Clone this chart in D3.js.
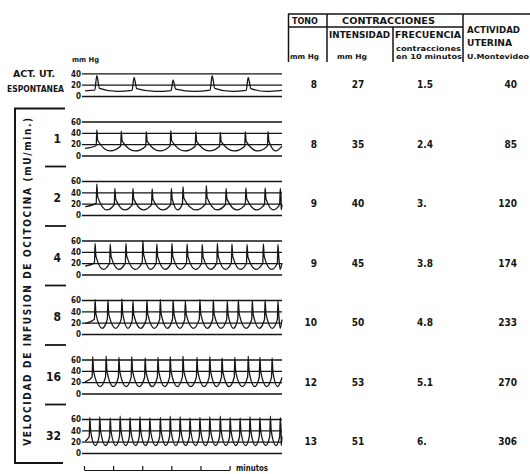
<!DOCTYPE html>
<html><head><meta charset="utf-8">
<script src="https://cdn.jsdelivr.net/npm/d3@7"></script>
<style>
html,body{margin:0;padding:0;background:#fff;}
svg{display:block;}
text{font-family:"DejaVu Sans Condensed","Liberation Sans Narrow","DejaVu Sans",sans-serif;font-weight:bold;fill:#151515;}
</style></head><body>
<svg id="c" width="530" height="474"></svg>
<script>
// Registros de presión amniótica: actividad espontánea y con infusión de ocitocina
const filas = ["ESPONTANEA", "1", "2", "4", "8", "16", "32"];
const tono = [8, 8, 9, 9, 10, 12, 13];
const intensidad = [27, 35, 40, 45, 50, 53, 51];
const frecuencia = ["1.5", "2.4", "3.", "3.8", "4.8", "5.1", "6."];
const actividad = [40, 85, 120, 174, 233, 270, 306];
const escalaEspontanea = [0, 20, 40];
const escalaInfusion = [0, 20, 40, 60];
const escalaTiempo = [0, 5, 10, 15, 20, 25];

// instante de cada contracción (minutos) y presión máxima alcanzada (mm Hg)
const picosT = [
  [2.2, 8.6, 15.3, 22.0, 28.2],
  [2.2, 6.4, 10.7, 14.9, 19.2, 23.4, 27.7, 31.6],
  [2.2, 5.3, 8.4, 11.7, 15.0, 17.0, 21.0, 24.4, 27.8, 31.1, 33.7],
  [1.9, 4.5, 7.2, 10.1, 12.5, 15.1, 17.7, 20.3, 22.9, 25.4, 28.0, 30.8, 33.3],
  [1.9, 4.1, 6.5, 8.4, 10.8, 13.1, 15.3, 17.4, 19.9, 22.2, 24.6, 26.5, 28.9, 31.1, 33.3],
  [1.5, 3.8, 6.0, 8.2, 10.5, 12.7, 14.8, 17.0, 19.4, 21.6, 23.7, 25.9, 28.2, 30.2, 32.3],
  [1.0, 2.7, 4.5, 6.2, 7.9, 9.6, 11.3, 13.1, 14.8, 16.5, 18.2, 19.9, 21.6, 23.4, 25.1, 26.8, 28.5, 30.2, 32.0, 33.7]
];
const picosP = [
  [36, 33, 28, 36, 33],
  [45, 43, 42, 44, 42, 41, 42, 42],
  [55, 47, 47, 46, 47, 50, 52, 47, 48, 48, 47],
  [55, 54, 55, 60, 54, 55, 54, 53, 55, 54, 53, 54, 53],
  [61, 60, 62, 58, 60, 61, 60, 59, 61, 60, 58, 60, 59, 60, 58],
  [65, 66, 64, 65, 63, 64, 65, 66, 64, 65, 63, 64, 66, 64, 63],
  [63, 64, 62, 65, 63, 64, 62, 63, 65, 64, 62, 63, 64, 65, 63, 62, 64, 63, 65, 63]
];

const svg = d3.select("#c");
const ink = "#151515";

const x = d3.scaleLinear().domain([0, 34]).range([84, 282]);
const fila = d3.scalePoint().domain(d3.range(filas.length)).range([96, 453]);
const yPanel = i => d3.scaleLinear().domain([0, 60]).range([fila(i), fila(i) - 34]);

// forma de cada contracción: subida brusca, caída rápida y recuperación
const forma = i => i === 0
  ? { pre: 0.08, sube: 0.35, baja: 0.45, nivel: 0.2 }
  : { pre: i >= 4 ? 0.32 : 0.25, sube: 0.1, baja: 0.15, nivel: 0.5 };

function trazado(i) {
  const ts = picosT[i], ps = picosP[i], base = tono[i], f = forma(i);
  const pts = [];
  const amp0 = ps[0] - base;
  pts.push([0.2, base + f.pre * amp0 * 0.5]);
  ts.forEach((t, k) => {
    const p = ps[k], amp = p - base;
    const prevGap = k > 0 ? t - ts[k - 1] : ts[1] - ts[0];
    const next = k < ts.length - 1 ? ts[k + 1] : Math.min(34, t + prevGap);
    const gap = next - t;
    pts.push([t - f.sube, base + f.pre * amp]);
    pts.push([t, p]);
    pts.push([t + f.baja, base + f.nivel * amp]);
    pts.push([t + 0.55 * gap, base]);
  });
  const last = pts[pts.length - 1][0];
  const ampN = ps[ps.length - 1] - base;
  if (34 > last + 0.05) pts.push([34, base + f.pre * ampN]);
  return pts;
}

filas.forEach((nombre, i) => {
  const y = yPanel(i);
  const g = svg.append("g");
  // líneas de referencia de presión
  const eje = d3.axisLeft(y)
    .tickValues(i === 0 ? escalaEspontanea : escalaInfusion)
    .tickSize(-(x.range()[1] - 82))
    .tickPadding(1);
  const ga = g.append("g").attr("transform", "translate(82,0)").call(eje);
  ga.select(".domain").remove();
  ga.selectAll(".tick line").attr("stroke", ink).attr("stroke-width", 1.3);
  ga.selectAll(".tick text").attr("font-size", 8).attr("fill", ink)
    .attr("font-family", null).attr("dy", "0.34em");

  // registro de presión
  const linea = d3.line().x(d => x(d[0])).y(d => y(d[1])).curve(d3.curveMonotoneX);
  g.append("path").attr("d", linea(trazado(i)))
    .attr("fill", "none").attr("stroke", ink).attr("stroke-width", 1.3)
    .attr("stroke-linejoin", "round");

  // columnas de la tabla
  const yt = fila(i) - 12 + 4;
  g.append("text").attr("x", 317).attr("y", yt).attr("text-anchor", "end")
    .attr("font-size", 10).text(tono[i]);
  g.append("text").attr("x", 358).attr("y", yt).attr("text-anchor", "middle")
    .attr("font-size", 10).text(intensidad[i]);
  g.append("text").attr("x", 417).attr("y", yt)
    .attr("font-size", 10).text(frecuencia[i]);
  g.append("text").attr("x", 517).attr("y", yt).attr("text-anchor", "end")
    .attr("font-size", 10).text(actividad[i]);

  if (i > 0) {
    g.append("text").attr("x", 61).attr("y", fila(i) - 17).attr("dy", "0.36em")
      .attr("text-anchor", "end").attr("font-size", 12).text(nombre);
  }
  if (i > 0 && i < filas.length - 1) {
    g.append("line").attr("x1", 45).attr("x2", 66)
      .attr("y1", fila(i) + 11).attr("y2", fila(i) + 11)
      .attr("stroke", ink).attr("stroke-width", 1.8);
  }
});

// encabezado de la actividad espontánea
svg.append("text").attr("x", 72).attr("y", 62).attr("font-size", 7)
  .attr("textLength", 27).attr("lengthAdjust", "spacingAndGlyphs").text("mm Hg");
svg.append("text").attr("x", 13).attr("y", 77).attr("font-size", 8)
  .attr("textLength", 42).attr("lengthAdjust", "spacingAndGlyphs").text("ACT. UT.");
svg.append("text").attr("x", 7).attr("y", 92).attr("font-size", 8)
  .attr("textLength", 57).attr("lengthAdjust", "spacingAndGlyphs").text("ESPONTANEA");

// llave de la velocidad de infusión
const yTop = fila(1) - 47, yBot = fila(filas.length - 1) + 10;
svg.append("path")
  .attr("d", d3.line()([[65, yTop], [15, yTop], [15, yBot], [63, yBot]]))
  .attr("fill", "none").attr("stroke", ink).attr("stroke-width", 2);
svg.append("text")
  .attr("transform", `translate(31,${(yTop + yBot) / 2 - 4}) rotate(-90)`)
  .attr("text-anchor", "middle").attr("font-size", 10)
  .attr("textLength", 328).attr("lengthAdjust", "spacing")
  .text("VELOCIDAD DE INFUSION DE OCITOCINA (mU/min.)");

// escala de tiempo
const xt = d3.scaleLinear().domain([0, 25]).range([x(0), x(25)]);
const gt = svg.append("g").attr("transform", "translate(0,470)")
  .call(d3.axisTop(xt).tickValues(escalaTiempo).tickSize(4).tickSizeOuter(0).tickFormat(""));
gt.selectAll("path,line").attr("stroke", ink).attr("stroke-width", 1.2);
svg.append("text").attr("x", 236).attr("y", 471).attr("font-size", 8)
  .attr("textLength", 32).attr("lengthAdjust", "spacingAndGlyphs").attr("font-weight", "normal").text("minutos");

// tabla de resultados
const tabla = svg.append("g").attr("fill", "none").attr("stroke", ink).attr("stroke-width", 1.5);
const segmentos = [
  [[288, 14], [530, 14]],
  [[288, 27], [463, 27]],
  [[288.5, 14], [288.5, 62]],
  [[327, 14], [327, 62]],
  [[393, 27], [393, 62]],
  [[463, 14], [463, 62]]
];
segmentos.forEach(s => tabla.append("path").attr("d", d3.line()(s)));

const cab = [
  ["TONO", 292, 24, 9, 26],
  ["CONTRACCIONES", 342, 24, 9, 93],
  ["INTENSIDAD", 329, 38, 8, 61],
  ["FRECUENCIA", 395, 38, 8, 66],
  ["contracciones", 396, 51, 7, 65],
  ["en 10 minutos", 396, 59, 7, 66],
  ["mm Hg", 290, 59, 7, 29],
  ["mm Hg", 337, 59, 7, 30],
  ["ACTIVIDAD", 467, 33, 8, 53],
  ["UTERINA", 467, 46, 8, 45],
  ["U.Montevideo", 467, 59, 7, 62]
];
cab.forEach(([t, cx, cy, fs, w]) => {
  svg.append("text").attr("x", cx).attr("y", cy).attr("font-size", fs)
    .attr("textLength", w).attr("lengthAdjust", "spacingAndGlyphs").text(t);
});
</script>
</body></html>
